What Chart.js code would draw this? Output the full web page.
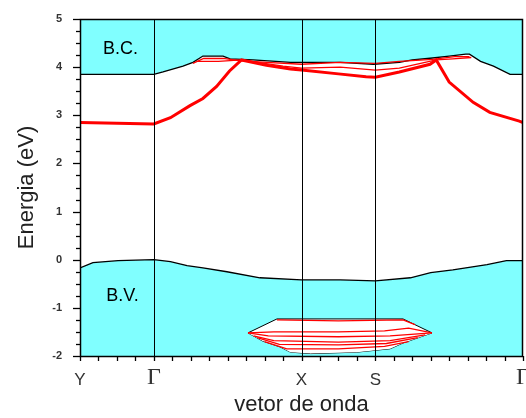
<!DOCTYPE html>
<html>
<head>
<meta charset="utf-8">
<script src="https://cdn.jsdelivr.net/npm/chart.js@4/dist/chart.umd.min.js"></script>
<style>
  html, body { margin: 0; padding: 0; background: #fff; }
  #wrap { width: 526px; height: 418px; }
</style>
</head>
<body>
<div id="wrap"><canvas id="c" width="526" height="418"></canvas></div>
<script>
// ---- tick labels (k-path positions) ----
const pathPos = [0, 4, 12, 16, 24];
const pathLabels = ['Y', 'Γ', 'X', 'S', 'Γ'];
const symLinePos = [4, 12, 16];

// ---- conduction band edge (B.C.) ----
const kCB = [0, 4, 4.5, 5.58, 6.12, 6.66, 7.75, 8.13, 9.37, 11.4, 12, 14.1, 15.9, 17.3, 18.0, 19.1, 20.0, 20.9, 21.1, 21.7, 22.4, 23.3, 24];
const eCB = [3.85, 3.85, 3.9, 4.02, 4.10, 4.23, 4.23, 4.17, 4.15, 4.10, 4.10, 4.10, 4.06, 4.10, 4.15, 4.19, 4.23, 4.27, 4.27, 4.12, 4.02, 3.85, 3.85];

// ---- valence band edge (B.V.) ----
const kVB = [0, 0.7, 2.06, 4, 4.9, 5.8, 6.66, 7.96, 9.75, 12, 14.1, 16, 17.9, 19, 20.2, 22.05, 23.1, 24];
const eVB = [-0.17, -0.06, -0.02, 0, -0.04, -0.125, -0.17, -0.25, -0.375, -0.42, -0.42, -0.44, -0.375, -0.27, -0.21, -0.10, -0.02, -0.02];

// ---- gap states (red bands) ----
const kA = [0, 4, 4.9, 5.96, 6.66, 7.4, 8.1, 8.75, 10.1, 11.4, 12, 14, 15.5, 16, 17.3, 18.96, 19.3, 20.0, 21.3, 22.2, 23.8, 24];
const eA = [2.85, 2.82, 2.95, 3.2, 3.35, 3.6, 3.92, 4.15, 4.04, 3.96, 3.94, 3.86, 3.80, 3.79, 3.9, 4.06, 4.15, 3.69, 3.27, 3.06, 2.88, 2.85];
const kB1 = [6.12, 6.7, 7.75, 8.75, 10.1, 12, 14.1, 16, 17.3, 19.1, 20.3, 21.1];
const eB1 = [4.08, 4.18, 4.18, 4.13, 4.1, 4.06, 4.1, 4.08, 4.12, 4.16, 4.22, 4.22];
const kB2 = [6.3, 7.5, 8.75, 11, 12, 14.1, 16, 17.3, 19.3, 20.2, 21.2];
const eB2 = [4.12, 4.12, 4.15, 4.02, 3.98, 4.0, 3.94, 3.98, 4.15, 4.17, 4.2];

// ---- resonant states inside the valence band ----
const kLensTop = [9.1, 10.67, 17.5, 18.15, 19.07];
const eLensTop = [-1.52, -1.23, -1.23, -1.35, -1.52];
const kLensBot = [9.1, 9.9, 10.83, 11.4, 12.5, 15, 16.8, 17.5, 19.07];
const eLensBot = [-1.52, -1.69, -1.81, -1.92, -1.95, -1.92, -1.85, -1.73, -1.52];
const kL1 = [10.67, 14, 17.5, 18.15];
const eL1 = [-1.25, -1.27, -1.25, -1.35];
const kL2 = [9.1, 10.5, 14, 16.5, 17.8, 19.07];
const eL2 = [-1.52, -1.5, -1.5, -1.48, -1.42, -1.52];
const kL3 = [9.1, 10.2, 14, 16.8, 19.07];
const eL3 = [-1.52, -1.58, -1.6, -1.58, -1.52];
const kL4 = [9.4, 10.5, 14, 16.8, 18.7];
const eL4 = [-1.58, -1.68, -1.71, -1.68, -1.56];
const kL5 = [9.6, 10.8, 14, 16.6, 18.3];
const eL5 = [-1.62, -1.76, -1.77, -1.74, -1.62];
const kL6 = [10, 11.2, 14, 16.5, 17.8];
const eL6 = [-1.7, -1.85, -1.85, -1.8, -1.7];

const regionNames = ['B.C.', 'B.V.'];
const regionK = [2.2, 2.3];
const regionE = [4.37, -0.75];

function pts(ks, es) { return ks.map((k, i) => ({ x: k, y: es[i] })); }

const CYAN = '#80ffff';
const RED = '#ff0000';

function line(ks, es, color, width, order, extra) {
  return Object.assign({
    data: pts(ks, es), borderColor: color, borderWidth: width,
    pointRadius: 0, tension: 0, fill: false, order: order
  }, extra || {});
}

const datasets = [
  line(kCB, eCB, '#000', 1.3, 10, { fill: 'end', backgroundColor: CYAN }),
  line(kVB, eVB, '#000', 1.3, 10, { fill: 'start', backgroundColor: CYAN }),
  line(kLensTop, eLensTop, '#000', 1, 5, { fill: '+1', backgroundColor: '#ffffff' }),
  line(kLensBot, eLensBot, '#000', 1, 5),
  line(kL1, eL1, RED, 1.3, 2),
  line(kL2, eL2, RED, 1.3, 2),
  line(kL3, eL3, RED, 1.3, 2),
  line(kL4, eL4, RED, 1.3, 2),
  line(kL5, eL5, RED, 1.3, 2),
  line(kL6, eL6, RED, 1.3, 2),
  line(kB1, eB1, RED, 1.3, 2),
  line(kB2, eB2, RED, 1.3, 2),
  line(kA, eA, RED, 3, 1)
];

const overlay = {
  id: 'overlay',
  afterDatasetsDraw(chart) {
    const { ctx, scales: { x, y } } = chart;
    ctx.save();
    ctx.fillStyle = '#000';
    ctx.font = '18px "Liberation Sans", Arial, sans-serif';
    ctx.textAlign = 'center';
    ctx.textBaseline = 'middle';
    regionNames.forEach((t, i) => {
      ctx.fillText(t, x.getPixelForValue(regionK[i]), y.getPixelForValue(regionE[i]));
    });
    ctx.restore();
  },
  afterDraw(chart) {
    const { ctx, chartArea: a, scales: { x, y } } = chart;
    ctx.save();
    ctx.strokeStyle = '#000';
    ctx.lineWidth = 1;
    // symmetry lines
    symLinePos.forEach(v => {
      const px = Math.round(x.getPixelForValue(v)) + 0.5;
      ctx.beginPath(); ctx.moveTo(px, a.top); ctx.lineTo(px, a.bottom); ctx.stroke();
    });
    // frame
    ctx.lineWidth = 1.5;
    ctx.strokeRect(Math.round(a.left) + 0.5, Math.round(a.top) + 0.5, Math.round(a.right - a.left) - 1, Math.round(a.bottom - a.top));
    // y ticks (major/minor)
    ctx.lineWidth = 1.3;
    y.ticks.forEach(t => {
      const py = Math.round(y.getPixelForValue(t.value)) + 0.5;
      const len = Number.isInteger(t.value) ? 7 : 4;
      ctx.beginPath(); ctx.moveTo(a.left - len, py); ctx.lineTo(a.left, py); ctx.stroke();
    });
    // x ticks
    for (let v = x.min; v <= x.max; v++) {
      const px = Math.round(x.getPixelForValue(v)) + 0.5;
      ctx.beginPath(); ctx.moveTo(px, a.bottom); ctx.lineTo(px, a.bottom + 5); ctx.stroke();
    }
    // x tick labels (k-path points)
    ctx.fillStyle = '#333';
    ctx.textAlign = 'center';
    ctx.textBaseline = 'alphabetic';
    pathPos.forEach((v, i) => {
      const lab = pathLabels[i];
      if (lab === 'Γ') ctx.font = '24px "Liberation Serif", "DejaVu Serif", serif';
      else ctx.font = '17px "Liberation Sans", Arial, sans-serif';
      ctx.fillText(lab, x.getPixelForValue(v), a.bottom + (lab === 'Γ' ? 28 : 29));
    });
    ctx.restore();
  }
};

new Chart(document.getElementById('c'), {
  type: 'line',
  data: { datasets },
  plugins: [overlay],
  options: {
    responsive: false,
    animation: false,
    devicePixelRatio: 1,
    layout: { padding: { top: 19, right: 3, left: 0, bottom: 0 }, autoPadding: false },
    plugins: { legend: { display: false }, tooltip: { enabled: false } },
    scales: {
      x: {
        type: 'linear', min: 0, max: 24,
        afterFit(s) { s.height = 62; },
        grid: { display: false },
        border: { display: false },
        ticks: { display: false },
        title: {
          display: true, text: 'vetor de onda', color: '#222',
          font: { family: '"Liberation Sans", Arial, sans-serif', size: 22 },
          padding: { top: 0, bottom: 0 }
        }
      },
      y: {
        type: 'linear', min: -2, max: 5,
        afterFit(s) { s.width = 80; },
        grid: { display: false },
        border: { display: false },
        afterBuildTicks(s) {
          const t = [];
          for (let v = -2; v <= 5.001; v += 0.25) t.push({ value: Math.round(v * 100) / 100 });
          s.ticks = t;
        },
        ticks: {
          autoSkip: false, padding: 10, color: '#333',
          font: { family: '"Liberation Sans", Arial, sans-serif', size: 11, weight: 'bold' },
          callback(v) { return Number.isInteger(v) ? String(v) : ''; }
        },
        title: {
          display: true, text: 'Energia (eV)', color: '#222',
          font: { family: '"Liberation Sans", Arial, sans-serif', size: 22 },
          padding: { top: 14, bottom: 0 }
        }
      }
    }
  }
});
</script>
</body>
</html>
